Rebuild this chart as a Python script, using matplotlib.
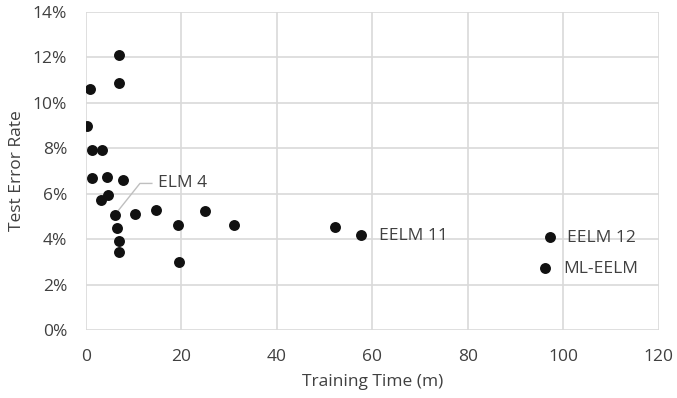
import matplotlib
matplotlib.use("Agg")
import matplotlib.pyplot as plt
from matplotlib.ticker import FuncFormatter

plt.rcParams['font.family'] = ['Open Sans', 'DejaVu Sans']

train_time = [6.9, 6.9, 0.8, 0.2, 1.3, 3.4, 1.3, 4.4, 7.7, 4.6, 3.1, 6.1, 10.3,
              14.7, 19.3, 25.0, 31.0, 6.5, 6.9, 6.9, 19.5, 52.1, 57.6, 97.2, 96.1]
error_rate = [12.1, 10.85, 10.6, 8.96, 7.9, 7.9, 6.7, 6.75, 6.58, 5.96, 5.7, 5.08, 5.12,
              5.3, 4.64, 5.25, 4.64, 4.5, 3.93, 3.44, 3.0, 4.55, 4.19, 4.1, 2.74]
labels = {11: "ELM 4", 22: "EELM 11", 23: "EELM 12", 24: "ML-EELM"}

text_color = '#404040'
grid_color = '#d9d9d9'

fig = plt.figure(figsize=(6.77, 3.98), dpi=100)
ax = fig.add_axes([0.127, 0.171, 0.846, 0.799])
ax.scatter(train_time, error_rate, s=62, color='#111111', zorder=3, linewidths=0)

ax.set_xlim(0, 120)
ax.set_ylim(0, 14)
ax.set_xticks(range(0, 121, 20))
ax.set_yticks(range(0, 15, 2))
ax.yaxis.set_major_formatter(FuncFormatter(lambda v, p: f"{v:.0f}%"))
ax.grid(True, color=grid_color, linewidth=1.2)
ax.set_axisbelow(True)
for s in ax.spines.values():
    s.set_visible(False)
ax.tick_params(length=0, colors=text_color, labelsize=12.5)
ax.tick_params(axis='x', pad=13.5)
ax.tick_params(axis='y', pad=13.5)
ax.set_xlabel("Training Time (m)", color=text_color, fontsize=12.5, labelpad=7)
ax.set_ylabel("Test Error Rate", color=text_color, fontsize=12.5, labelpad=6)

# ELM 4 label with leader line
i = 11
ax.plot([train_time[i], 11.3, 13.8], [error_rate[i], 6.45, 6.45], color='#bfbfbf', lw=1, zorder=2)
ax.text(15.1, 6.45, labels[i], color=text_color, fontsize=12.5, va='center', ha='left')
ax.text(61.4, 4.15, labels[22], color=text_color, fontsize=12.5, va='center', ha='left')
ax.text(100.7, 4.06, labels[23], color=text_color, fontsize=12.5, va='center', ha='left')
ax.text(99.9, 2.69, labels[24], color=text_color, fontsize=12.5, va='center', ha='left')

fig.savefig("out.png", dpi=100)
